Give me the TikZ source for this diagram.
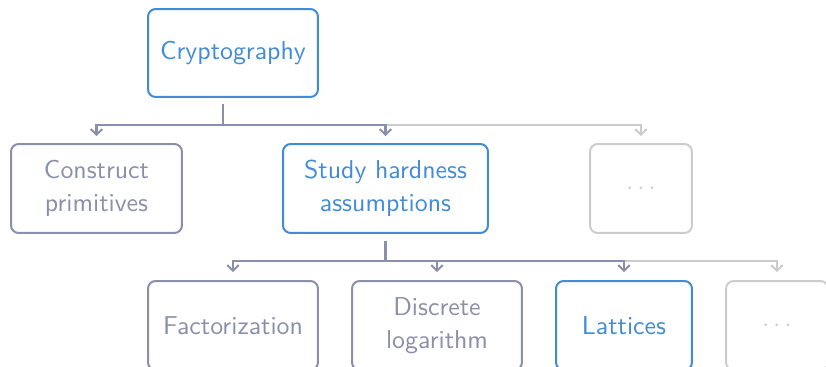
\documentclass[tikz,border=0pt]{standalone}
\usepackage{fontspec}
\usepackage{xcolor}
\usetikzlibrary{positioning,arrows.meta}

\definecolor{hardblue}{RGB}{66,139,214}
\definecolor{slate}{RGB}{138,143,170}
\definecolor{faint}{RGB}{204,204,204}

\begin{document}
\begin{tikzpicture}[
      x=0.014cm, y=-0.014cm,
      type-box/.style={rectangle, rounded corners=3pt, line width=0.8pt, align=center,
        inner sep=0pt, minimum height=1.246cm, font=\sffamily\fontsize{10.3}{13.2}\selectfont},
      type-main/.style={type-box, draw=hardblue, text=hardblue},
      type-side/.style={type-box, draw=slate, text=slate},
      type-more/.style={type-box, draw=faint, text=faint, minimum width=1.428cm},
      link/.style={draw=slate, line width=0.8pt, >={Straight Barb[length=2.2pt,width=4.6pt]}},
      link-faint/.style={link, draw=faint}
    ]
      \useasboundingbox (0,0) rectangle (826,367);

      % top level
      \node[type-main, minimum width=2.38cm, minimum height=1.232cm] (crypto) at (233,53) {Cryptography};

      % second level
      \node[type-side, minimum width=2.394cm] (construct) at (96.5,188.5) {Construct\\primitives};
      \node[type-main, minimum width=2.87cm] (study) at (385.5,188.5) {Study hardness\\assumptions};
      \node[type-more] (more-top) at (641,188.5) {$\cdots$};

      % third level
      \node[type-side, minimum width=2.38cm] (factor) at (233,325.5) {Factorization};
      \node[type-side, minimum width=2.38cm] (dlog) at (437,325.5) {Discrete\\logarithm};
      \node[type-main, minimum width=1.904cm] (lattice) at (624,325.5) {Lattices};
      \node[type-more] (more-low) at (777,325.5) {$\cdots$};

      \coordinate (fork-top) at ([shift={(-10,27)}]crypto.south);
      \coordinate (fork-hard) at ([shift={(0,27)}]study.south);

      % connectors
      \draw[link-faint,->] (fork-top) -| ([shift={(0,-7)}]more-top.north);
      \draw[link] ([shift={(-10,6)}]crypto.south) -- (fork-top);
      \draw[link,->] (fork-top) -| ([shift={(0,-7)}]construct.north);
      \draw[link,->] (fork-top) -| ([shift={(0,-7)}]study.north);

      \draw[link-faint,->] (fork-hard) -| ([shift={(0,-8)}]more-low.north);
      \draw[link] ([shift={(0,7)}]study.south) -- (fork-hard);
      \foreach \leaf in {factor, dlog, lattice}
        \draw[link,->] (fork-hard) -| ([shift={(0,-8)}]\leaf.north);
    \end{tikzpicture}
\end{document}
